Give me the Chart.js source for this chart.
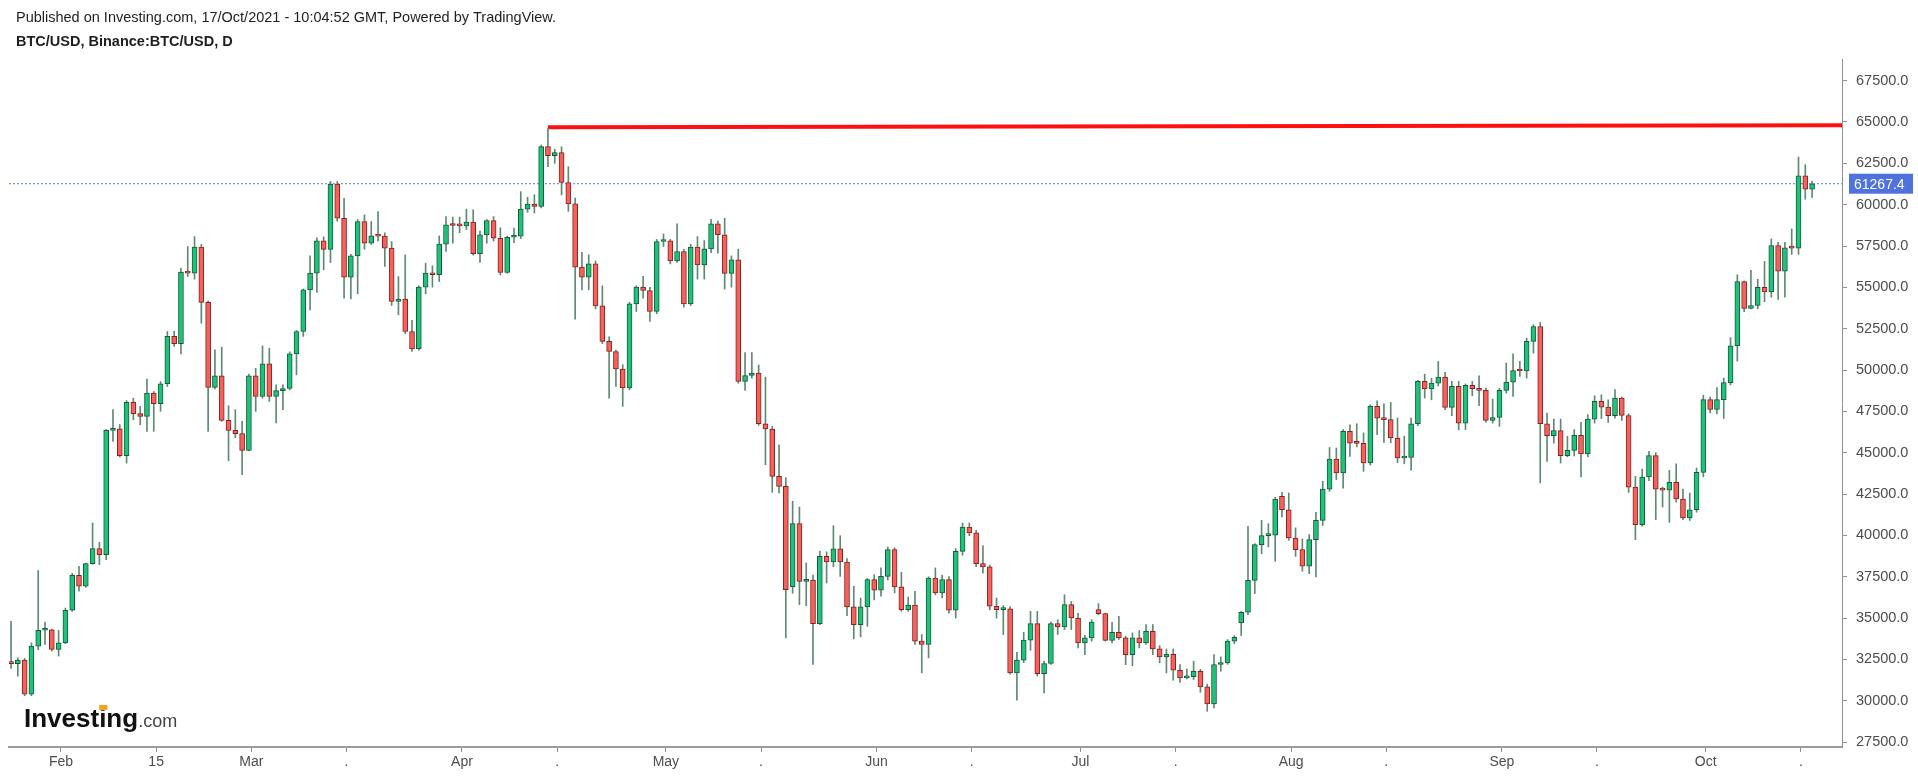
<!DOCTYPE html>
<html>
<head>
<meta charset="utf-8">
<title>BTC/USD</title>
<script src="https://cdn.jsdelivr.net/npm/chart.js@4.4.1/dist/chart.umd.min.js"></script>
<style>
  html, body { margin: 0; padding: 0; background: #fff; }
  #chart { display: block; }
</style>
</head>
<body>
<canvas id="chart" width="1918" height="777"></canvas>
<script>
// BTC/USD daily candles, 25 Jan 2021 .. 17 Oct 2021
const opens = [
  32260, 32240, 32460, 30400, 33300, 34260, 34290, // Jan
  33100, 33500, 35470, 37590, 36920, 38290, 39200, 38830, 46350, 46450, 44820, 48040, 47360, 47200, 48600, 47960, 49170, 52030, 51590, 55920, 55860, 57430, 54090, 48950, 49650, 46950, 46350, 46150, // Feb
  45140, 49650, 48400, 50380, 48400, 48750, 48880, 50980, 52330, 54850, 55860, 57810, 57300, 61250, 59180, 55620, 56900, 58980, 57670, 58110, 58100, 57370, 54150, 54290, 52330, 51270, 55010, 55860, 55760, 57610, 58780, // Mar
  58740, 58720, 58940, 57030, 58170, 59040, 57970, 55900, 58030, 58100, 59730, 60030, 59890, 63510, 62970, 63150, 61340, 60050, 56220, 55620, 56420, 53880, 51730, 51120, 50060, 48910, 54000, 55010, 54810, 53540, // Apr
  57770, 57810, 56600, 57170, 54000, 57430, 56360, 57330, 58840, 58180, 55840, 56660, 49310, 49670, 49810, 46750, 46430, 43570, 42960, 36900, 40710, 37220, 37300, 34660, 38730, 38390, 39180, 38390, 35670, 34600, 35670, // May
  37320, 36680, 37520, 39140, 36880, 35510, 35790, 33600, 33400, 37420, 36520, 37320, 35470, 39030, 40500, 40150, 38290, 38090, 35710, 35510, 35560, 31680, 32450, 33660, 34660, 31640, 32250, 34660, 34460, 35810, // Jun
  35000, 33490, 33800, 35510, 35270, 33650, 34140, 33800, 32790, 33800, 33500, 34200, 33130, 32650, 32800, 31840, 31380, 31450, 31780, 30840, 29810, 32190, 32290, 33600, 34700, 35350, 37280, 39440, 39980, 40010, 42360, // Jul
  41550, 39840, 39140, 38130, 39740, 40910, 42800, 44620, 43770, 46290, 45580, 45560, 44380, 47800, 47090, 47000, 45890, 44680, 44720, 46750, 49310, 48850, 49210, 49570, 47740, 49010, 46790, 49070, 48870, 48770, 46950, // Aug
  47130, 48770, 49270, 49970, 49940, 51730, 52630, 46750, 46030, 46330, 44820, 45140, 46050, 44920, 47030, 48100, 47760, 47240, 48300, 47250, 42920, 40650, 43530, 44820, 42800, 42740, 43210, 42200, 41050, 41550, // Sep
  43810, 48210, 47610, 48210, 49240, 51470, 55350, 53720, 53900, 55000, 54730, 57530, 55980, 57390, 57370, 61740, 60930 // Oct
];
const highs = [
  34800, 32600, 32560, 33500, 37870, 34760, 34330,
  34250, 35600, 37700, 38130, 38320, 40750, 39580, 46400, 47600, 46700, 48150, 48300, 47800, 49450, 48700, 49300, 52330, 52340, 56160, 57470, 58070, 57600, 54180, 51220, 51380, 47840, 47600, 46890,
  49750, 50100, 51460, 51320, 49100, 49100, 51100, 52400, 54900, 56900, 58000, 58050, 61400, 61400, 60390, 57000, 59100, 59380, 58980, 59580, 58300, 57770, 55650, 56960, 53000, 55100, 56460, 56300, 58110, 59280, 59250,
  59250, 59730, 59690, 58400, 59100, 59280, 58600, 58100, 58580, 60790, 60450, 60600, 63600, 64600, 63350, 63500, 62300, 60400, 57110, 56970, 56600, 55090, 52000, 51200, 50320, 54100, 55100, 55660, 55000, 57900,
  58230, 57900, 58840, 57300, 57600, 58070, 57830, 59120, 59000, 59180, 56900, 57310, 51060, 51060, 50300, 49570, 46600, 45480, 43500, 42060, 41710, 38330, 37600, 39040, 39000, 40590, 39980, 38600, 36920, 36210, 37400,
  37620, 38030, 39300, 39250, 37770, 36270, 36620, 34000, 37500, 38030, 37600, 37500, 39200, 40750, 40750, 40300, 39380, 38200, 36210, 35750, 35700, 32930, 34140, 35400, 35400, 32400, 34750, 34900, 36410, 36000,
  35280, 33950, 34900, 35870, 35300, 34740, 35100, 33900, 34100, 34240, 34600, 34600, 33330, 33130, 33130, 32190, 31920, 32390, 31900, 31000, 32790, 32650, 33700, 33940, 35400, 40550, 39500, 40910, 40710, 42300, 42600,
  42560, 40450, 39780, 40040, 41390, 43270, 45320, 45280, 46400, 46690, 46750, 46200, 47900, 48140, 47960, 48040, 47100, 46000, 47090, 49380, 49750, 49500, 50520, 49860, 49310, 49310, 49160, 49310, 49650, 48900, 48240,
  48900, 50420, 50980, 50520, 51930, 52740, 52880, 47400, 47030, 47030, 45990, 46390, 46830, 47300, 48440, 48500, 48200, 48810, 48370, 47350, 43570, 44010, 45080, 45000, 42920, 43930, 44330, 42800, 42560, 44070,
  48480, 48370, 48940, 49510, 51960, 55760, 55400, 56030, 55490, 56570, 57930, 57720, 57720, 58530, 62880, 62420, 61420
];
const lows = [
  31950, 31480, 30300, 30300, 33090, 33400, 33000,
  32700, 33450, 35400, 36620, 36850, 38250, 38230, 38530, 45680, 44740, 44370, 46990, 46690, 46290, 46290, 47500, 49000, 51420, 50980, 55650, 55500, 52830, 46290, 48850, 46900, 44510, 45900, 43670,
  45100, 47500, 48300, 48100, 46800, 47600, 48800, 49710, 52030, 53640, 54690, 56060, 56500, 59000, 54350, 54300, 54610, 57300, 57600, 57800, 56260, 53900, 53340, 52200, 51120, 51200, 54610, 55010, 55350, 57170, 57670,
  58300, 58500, 56950, 56500, 57670, 57800, 55750, 55850, 57700, 57950, 59540, 59500, 59800, 62300, 62500, 60590, 59600, 53080, 54850, 54850, 53700, 51600, 48300, 49010, 47800, 48800, 53540, 54350, 52940, 53400,
  57470, 56420, 56500, 53800, 53900, 55500, 55500, 57100, 57070, 54890, 55010, 49200, 48760, 49510, 46650, 44270, 42600, 42560, 33800, 36500, 35810, 35750, 32190, 34600, 37120, 38100, 37520, 35150, 33740, 33860, 34500,
  36100, 36320, 37300, 36520, 35410, 35400, 33400, 31680, 32590, 36400, 36210, 35300, 35000, 38800, 39980, 38100, 37720, 35500, 35000, 34000, 31600, 30030, 32300, 33050, 31500, 30470, 32200, 34000, 34300, 34300,
  33190, 32790, 33600, 35200, 33600, 33500, 33700, 32180, 32120, 33190, 33400, 32790, 32290, 31680, 31240, 31100, 31320, 31280, 30510, 29360, 29570, 31780, 32200, 33450, 33940, 35200, 36480, 38890, 39300, 38430, 41110,
  39700, 38730, 37830, 37690, 37480, 40600, 42660, 43370, 42860, 44780, 45350, 43870, 44250, 46090, 45620, 45600, 44400, 44330, 43950, 46640, 48300, 48200, 49030, 47600, 47240, 46380, 46400, 48440, 47840, 46850, 46790,
  46590, 48600, 48400, 49610, 49510, 51020, 43170, 44470, 45580, 44370, 44750, 44800, 43530, 44750, 46790, 47060, 46830, 47090, 46950, 42600, 39740, 40550, 43300, 40950, 41710, 40790, 42000, 40950, 40900, 41400,
  43540, 47400, 47340, 47070, 49100, 50540, 53530, 53700, 53700, 54130, 54400, 54270, 54400, 56990, 56990, 60330, 60440
];
const closes = [
  32240, 32460, 30400, 33300, 34260, 34290, 33100,
  33500, 35470, 37590, 36920, 38290, 39200, 38830, 46350, 46450, 44820, 48040, 47360, 47200, 48600, 47960, 49170, 52030, 51590, 55920, 55860, 57430, 54090, 48950, 49650, 46950, 46350, 46150, 45140,
  49650, 48400, 50380, 48400, 48750, 48880, 50980, 52330, 54850, 55860, 57810, 57300, 61250, 59180, 55620, 56900, 58980, 57670, 58110, 58100, 57370, 54150, 54290, 52330, 51270, 55010, 55860, 55760, 57610, 58780, 58740,
  58720, 58940, 57030, 58170, 59040, 57970, 55900, 58030, 58100, 59730, 60030, 59890, 63510, 62970, 63150, 61340, 60050, 56220, 55620, 56420, 53880, 51730, 51120, 50060, 48910, 54000, 55010, 54810, 53540, 57770,
  57810, 56600, 57170, 54000, 57430, 56360, 57330, 58840, 58180, 55840, 56660, 49310, 49670, 49810, 46750, 46430, 43570, 42960, 36720, 40710, 37220, 37300, 34660, 38730, 38390, 39180, 38390, 35670, 34600, 35670, 37320,
  36680, 37520, 39140, 36880, 35510, 35790, 33600, 33400, 37420, 36520, 37320, 35470, 39030, 40500, 40150, 38290, 38090, 35710, 35510, 35560, 31680, 32450, 33660, 34660, 31640, 32250, 34660, 34460, 35810, 35000,
  33490, 33800, 34760, 35270, 33650, 34140, 33800, 32790, 33800, 33500, 34200, 33130, 32650, 32800, 31840, 31380, 31450, 31780, 30840, 29810, 32190, 32290, 33600, 33840, 35350, 37280, 39440, 39980, 40010, 42200, 41550,
  39840, 39140, 38130, 39740, 40910, 42800, 44620, 43770, 46290, 45580, 45560, 44380, 47800, 47090, 47000, 45890, 44680, 44720, 46750, 49310, 48850, 49210, 49570, 47740, 49010, 46790, 49070, 48870, 48770, 46950, 47130,
  48770, 49270, 49970, 49940, 51730, 52630, 46750, 46030, 46330, 44820, 45140, 46050, 44920, 47030, 48100, 47760, 47240, 48300, 47250, 42920, 40650, 43530, 44820, 42800, 42740, 43210, 42200, 41050, 41550, 43810,
  48210, 47610, 48210, 49240, 51470, 55350, 53720, 53900, 55000, 54730, 57530, 55980, 57390, 57370, 61740, 60930, 61267.4
];

// x axis: day index (0 = 25 Jan) of month / mid-month ticks
const tickDays   = [7, 21, 35, 49, 66, 80, 96, 110, 127, 141, 157, 171, 188, 202, 219, 233, 249, 263];
const tickLabels = ['Feb', '15', 'Mar', '.', 'Apr', '.', 'May', '.', 'Jun', '.', 'Jul', '.', 'Aug', '.', 'Sep', '.', 'Oct', '.'];
const priceTicks = [27500, 30000, 32500, 35000, 37500, 40000, 42500, 45000, 47500, 50000, 52500, 55000, 57500, 60000, 62500, 65000, 67500];

// drawn resistance line (day index, price)
const resistDays   = [79, 269.4];
const resistPrices = [64680, 64810];

const lastPrice = closes[closes.length - 1];
const xMin = -0.3, xMax = 269.4;

const colors = {
    up: '#1fc27a',
    upBorder: '#145c38',
    down: '#f2635b',
    downBorder: '#8a1f1f',
    wick: '#5e8a73',
    resist: '#ff1010',
    last: '#5a78dc',
    axis: '#8f8f8f',
    text: '#4d4d4d'
};

const FONT = '"Liberation Sans", Arial, sans-serif';

const isUp = i => closes[i] >= opens[i];
const bodies = closes.map((c, i) => ({ x: i, y: [opens[i], c] }));
const wicks = closes.map((c, i) => ({ x: i, y: [lows[i], highs[i]] }));

const overlayPlugin = {
    id: 'overlay',
    afterDraw(chart) {
        const ctx = chart.ctx;
        const y = chart.scales.y;
        ctx.save();
        // header
        ctx.fillStyle = '#1e1e1e';
        ctx.textBaseline = 'middle';
        ctx.textAlign = 'left';
        ctx.font = '14.5px ' + FONT;
        ctx.fillText('Published on Investing.com, 17/Oct/2021 - 10:04:52 GMT, Powered by TradingView.', 16, 18);
        ctx.font = 'bold 14.5px ' + FONT;
        ctx.fillText('BTC/USD, Binance:BTC/USD, D', 16, 42);

        // last price tag
        const py = y.getPixelForValue(lastPrice);
        ctx.fillStyle = '#4f72de';
        ctx.fillRect(1849, py - 10, 64, 20);
        ctx.fillStyle = '#ffffff';
        ctx.font = '14px ' + FONT;
        ctx.fillText(lastPrice.toFixed(1), 1854, py + 1);

        // logo
        ctx.textBaseline = 'alphabetic';
        ctx.font = 'bold 26px ' + FONT;
        ctx.fillStyle = '#111';
        const word = 'Investing';
        ctx.fillText(word, 24, 727);
        const w = ctx.measureText(word).width;
        const pre = ctx.measureText('Invest').width;
        const iw = ctx.measureText('i').width;
        ctx.fillStyle = '#f7a21b';
        ctx.fillRect(24 + pre, 705, iw + 1, 5);
        ctx.font = '18px ' + FONT;
        ctx.fillStyle = '#444';
        ctx.fillText('.com', 24 + w, 727);
        ctx.restore();
    }
};

new Chart(document.getElementById('chart').getContext('2d'), {
    type: 'bar',
    data: {
        datasets: [{
            data: bodies,
            backgroundColor: c => isUp(c.dataIndex) ? colors.up : colors.down,
            borderColor: c => isUp(c.dataIndex) ? colors.upBorder : colors.downBorder,
            borderWidth: 1,
            borderSkipped: false,
            barThickness: 5,
            minBarLength: 2,
            grouped: false,
            order: 0
        }, {
            data: wicks,
            backgroundColor: colors.wick,
            borderWidth: 0,
            barThickness: 1,
            grouped: false,
            order: 1
        }, {
            type: 'line',
            data: resistDays.map((d, i) => ({ x: d, y: resistPrices[i] })),
            borderColor: colors.resist,
            borderWidth: 4,
            pointRadius: 0,
            order: 2
        }, {
            type: 'line',
            data: [{ x: xMin, y: lastPrice }, { x: xMax, y: lastPrice }],
            borderColor: colors.last,
            borderWidth: 1,
            borderDash: [2, 2],
            pointRadius: 0,
            order: 3
        }]
    },
    options: {
        responsive: false,
        animation: false,
        devicePixelRatio: 1,
        layout: { padding: { left: 9, top: 59, right: 0, bottom: 0 } },
        plugins: {
            legend: { display: false },
            tooltip: { enabled: false }
        },
        scales: {
            x: {
                type: 'linear',
                min: xMin,
                max: xMax,
                offset: false,
                afterFit: s => { s.height = 30; },
                afterBuildTicks: s => { s.ticks = tickDays.map(d => ({ value: d + 0.35 })); },
                grid: { drawOnChartArea: false, drawTicks: true, tickLength: 5, color: colors.axis, offset: false },
                border: { display: true, color: '#9c9c9c', width: 2 },
                ticks: {
                    autoSkip: false,
                    maxRotation: 0,
                    padding: 2,
                    color: colors.text,
                    font: { family: FONT, size: 14 },
                    callback: (v, i) => tickLabels[i]
                }
            },
            y: {
                position: 'right',
                min: 27200,
                max: 68810,
                afterFit: s => { s.width = 76; },
                afterBuildTicks: s => { s.ticks = priceTicks.map(v => ({ value: v })); },
                grid: { drawOnChartArea: false, drawTicks: true, tickLength: 5, color: colors.axis },
                border: { display: true, color: colors.axis, width: 1 },
                ticks: {
                    padding: 9,
                    color: colors.text,
                    font: { family: FONT, size: 14.5 },
                    callback: v => v.toFixed(1)
                }
            }
        }
    },
    plugins: [overlayPlugin]
});
</script>
</body>
</html>
